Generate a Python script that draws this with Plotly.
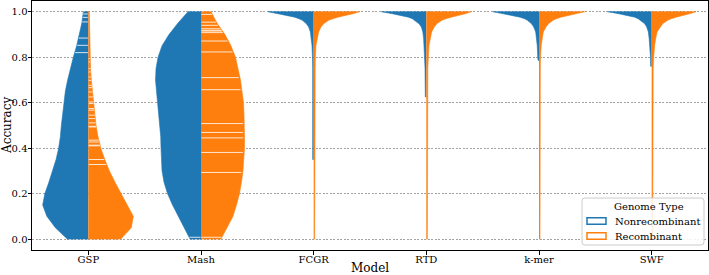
import numpy as np
import plotly.graph_objects as go

# ---------------- data ----------------
models = ["GSP", "Mash", "FCGR", "RTD", "k-mer", "SWF"]
genome_types = ["Nonrecombinant", "Recombinant"]
legend_title = "Genome Type"
y_ticks = [0.0, 0.2, 0.4, 0.6, 0.8, 1.0]

# density profile levels for the broad violins (GSP, Mash)
broad_levels = [1.0, 0.95, 0.9, 0.85, 0.8, 0.75, 0.7, 0.65, 0.6, 0.55, 0.5,
                0.45, 0.4, 0.35, 0.3, 0.25, 0.2, 0.15, 0.1, 0.05, 0.0]
gsp_non = [5, 6.5, 9, 11.7, 15, 18, 20.7, 23, 24.5, 25.8, 27,
           28, 29.7, 32.3, 35.7, 39.5, 43.5, 45.7, 41.5, 33, 21]
gsp_rec = [1, 1.2, 1.3, 1.5, 1.7, 2.2, 3, 4.2, 5.3, 6.5, 7.7,
           9.7, 12.5, 16.5, 21, 26.7, 32.7, 39, 45, 43, 32.5]
mash_non = [13, 23, 32, 39, 43, 45, 45.5, 44.5, 43.5, 42, 41,
            40.3, 40, 39.5, 39, 37, 33.5, 28.5, 22.5, 16.7, 11]
mash_rec = [10, 16, 24, 30, 34.5, 37, 39.5, 41, 42.5, 43, 43.5,
            43.5, 43.5, 43, 42, 40.5, 38.5, 35.5, 32, 26, 20]

# light gaps (stick-like white lines) seen inside the broad violins
gsp_non_gaps = [0.99, 0.975, 0.955, 0.884, 0.852, 0.82]
gsp_rec_gaps = [0.794, 0.779, 0.75, 0.735, 0.713, 0.698, 0.676, 0.666,
                0.647, 0.625, 0.603, 0.596, 0.574, 0.567, 0.545, 0.53,
                0.511, 0.496, 0.493, 0.435, 0.427, 0.413, 0.41, 0.35, 0.328]
mash_non_gaps = [0.008]
mash_rec_gaps = [0.988, 0.954, 0.94, 0.925, 0.918, 0.915, 0.908, 0.871,
                 0.823, 0.71, 0.657, 0.508, 0.469, 0.445, 0.381, 0.293, 0.008]

# density profile levels for the top-heavy violins
peak_levels = [1.0, 0.991, 0.984, 0.976, 0.969, 0.962, 0.947, 0.933,
               0.911, 0.881, 0.852, 0.8, 0.75]
fcgr_non = [45.7, 35.7, 25.7, 19, 14.7, 11.3, 7.3, 5, 3.3, 2.3, 1.7, 1.2, 1.0]
fcgr_rec = [46, 39.3, 31, 24.3, 19.3, 15, 10, 7.3, 5, 3.3, 2.3, 1.7, 1.5]
rtd_non = [45, 34, 25, 18, 14, 11.7, 7.3, 5, 3.5, 2.7, 2.2, 1.8, 1.3]
rtd_rec = [45, 39, 31.6, 25, 19.5, 15.5, 10.5, 8, 5.3, 3.7, 2.7, 2, 1.5]
kmer_non = [46, 36, 26, 19, 14.5, 11.6, 7.5, 5.3, 3.3, 2.5, 1.8, 1.2, 1.0]
kmer_rec = [45.7, 37, 29, 22, 17.5, 14, 9.5, 7, 4.3, 3, 2.2, 1.5, 1.3]
swf_non = [44, 33, 24, 17, 13.5, 11.3, 7, 5, 3.3, 2.5, 1.8, 1.2, 1.0]
swf_rec = [44.4, 38, 31, 24.5, 19.5, 16, 11, 8.7, 5.4, 4, 3, 2, 1.5]
# minimum accuracy reached by the thin tails, and the tail density
tail_min_non = [0.35, 0.625, 0.786, 0.76]
tail_min_rec = [0.0, 0.0, 0.0, 0.0]
tail_density = 1.0

# ---------------- styling ----------------
BLUE = "#1f77b4"
ORANGE = "#ff7f0e"
COLORS = [BLUE, ORANGE]
HALF_WIDTH = 0.408
MAX_DENS = 46.0
SCALE = HALF_WIDTH / MAX_DENS
FONT = "DejaVu Serif"
GAP_COLOR = "rgba(255,255,255,0.8)"
W, H = 709, 275
ML, MR, MT, MB = 32, 1, 1, 25
PW, PH = W - ML - MR, H - MT - MB


def px(xp):
    return (xp - ML) / PW


def py(yp):
    return (H - MB - yp) / PH


fig = go.Figure()


def add_half(idx, levels, dens, side, color):
    sign = -1 if side == 0 else 1
    xs = [idx] + [idx + sign * d * SCALE for d in dens] + [idx]
    ys = [levels[0]] + list(levels) + [levels[-1]]
    fig.add_trace(go.Scatter(
        x=xs, y=ys, mode="lines", fill="toself", fillcolor=color,
        line=dict(color=color, width=0.6), showlegend=False,
        hoverinfo="skip"))


def add_gaps(idx, levels, dens, side, gaps):
    sign = -1 if side == 0 else 1
    lv = np.array(levels)[::-1]
    dd = np.array(dens, dtype=float)[::-1]
    xs, ys = [], []
    for g in gaps:
        w = np.interp(g, lv, dd) * SCALE * 0.97
        xs += [idx + sign * 0.004, idx + sign * w, None]
        ys += [g, g, None]
    fig.add_trace(go.Scatter(
        x=xs, y=ys, mode="lines", line=dict(color=GAP_COLOR, width=1),
        showlegend=False, hoverinfo="skip"))


broad = [(gsp_non, gsp_rec, gsp_non_gaps, gsp_rec_gaps),
         (mash_non, mash_rec, mash_non_gaps, mash_rec_gaps)]
for i, (dn, dr, gn, gr) in enumerate(broad):
    add_half(i, broad_levels, dn, 0, BLUE)
    add_half(i, broad_levels, dr, 1, ORANGE)
    add_gaps(i, broad_levels, dn, 0, gn)
    add_gaps(i, broad_levels, dr, 1, gr)

peaks = [(fcgr_non, fcgr_rec), (rtd_non, rtd_rec),
         (kmer_non, kmer_rec), (swf_non, swf_rec)]
for j, (dn, dr) in enumerate(peaks):
    idx = j + 2
    for side, (dens, tmin, col) in enumerate(
            [(dn, tail_min_non[j], BLUE), (dr, tail_min_rec[j], ORANGE)]):
        lv = [l for l in peak_levels if l > tmin]
        dd = dens[:len(lv)]
        lv = lv + [tmin]
        dd = dd + [tail_density]
        add_half(idx, lv, dd, side, col)

# ---------------- matplotlib-like legend (drawn by hand) ----------------
bx0, bx1, by0, by1, r = 582, 704, 198, 245, 3
path = (f"M {px(bx0 + r)},{py(by0)} L {px(bx1 - r)},{py(by0)} "
        f"Q {px(bx1)},{py(by0)} {px(bx1)},{py(by0 + r)} "
        f"L {px(bx1)},{py(by1 - r)} Q {px(bx1)},{py(by1)} {px(bx1 - r)},{py(by1)} "
        f"L {px(bx0 + r)},{py(by1)} Q {px(bx0)},{py(by1)} {px(bx0)},{py(by1 - r)} "
        f"L {px(bx0)},{py(by0 + r)} Q {px(bx0)},{py(by0)} {px(bx0 + r)},{py(by0)} Z")
shapes = [dict(type="path", xref="paper", yref="paper", path=path,
               fillcolor="rgba(255,255,255,0.85)",
               line=dict(color="#cccccc", width=1), layer="above")]
annotations = [dict(text=legend_title, xref="paper", yref="paper",
                    x=px(649), y=py(206.5), xanchor="center",
                    yanchor="middle", showarrow=False,
                    font=dict(family=FONT, size=10))]
for k, (name, col) in enumerate(zip(genome_types, COLORS)):
    yc = 221 + 15 * k
    shapes.append(dict(type="rect", xref="paper", yref="paper",
                       x0=px(587), x1=px(606), y0=py(yc + 3.3),
                       y1=py(yc - 3.3), fillcolor="white",
                       line=dict(color=col, width=1.5), layer="above"))
    annotations.append(dict(text=name, xref="paper", yref="paper",
                            x=px(613), y=py(yc), xanchor="left",
                            yanchor="middle", showarrow=False,
                            font=dict(family=FONT, size=10)))

annotations += [
    dict(text="Model", xref="paper", yref="paper", x=0.5, y=py(268.3),
         xanchor="center", yanchor="middle", showarrow=False,
         font=dict(family=FONT, size=12)),
    dict(text="Accuracy", xref="paper", yref="paper", x=px(6.5), y=0.5,
         xanchor="center", yanchor="middle", showarrow=False,
         textangle=-90, font=dict(family=FONT, size=12)),
]

fig.update_layout(
    width=W, height=H,
    margin=dict(l=ML, r=MR, t=MT, b=MB),
    plot_bgcolor="white", paper_bgcolor="white",
    font=dict(family=FONT, size=10, color="black"),
    showlegend=False,
    shapes=shapes,
    annotations=annotations,
)
fig.update_xaxes(
    range=[-0.5, 5.5], tickmode="array",
    tickvals=list(range(len(models))), ticktext=models,
    showline=True, mirror=True, linecolor="black", linewidth=1,
    ticks="outside", ticklen=3.5, tickcolor="black", showgrid=False,
    zeroline=False, automargin=False, ticklabelstandoff=-4,
)
fig.update_yaxes(
    range=[-0.048, 1.047], tickmode="array", tickvals=y_ticks,
    ticktext=[f"{v:.1f}" for v in y_ticks],
    showline=True, mirror=True, linecolor="black", linewidth=1,
    ticks="outside", ticklen=3.5, tickcolor="black",
    showgrid=True, gridcolor="rgba(140,140,140,0.8)", griddash="2px,1.5px",
    gridwidth=0.8, zeroline=False, automargin=False, ticklabelstandoff=-2,
)

fig.write_html("out.html", config={"displayModeBar": False},
               post_script="document.body.style.margin='0';")
